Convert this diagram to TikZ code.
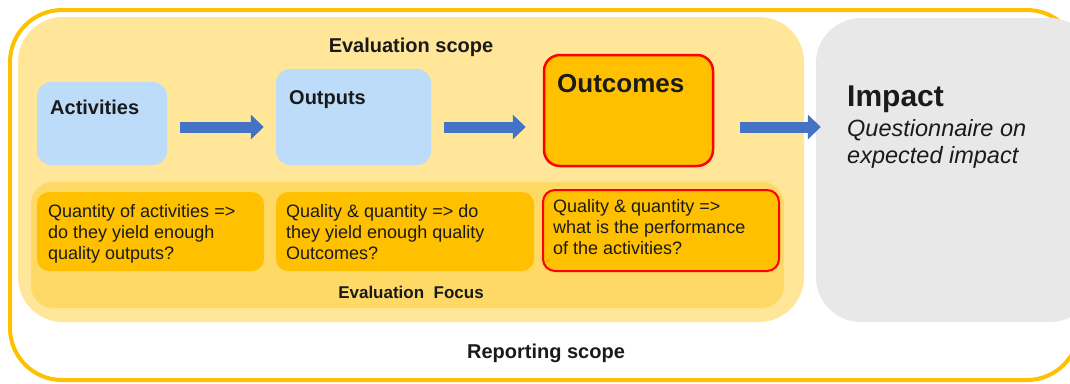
\documentclass[tikz,border=0pt]{standalone}
\usepackage{fontspec}
\setmainfont{Liberation Sans}
\usetikzlibrary{arrows.meta}

\definecolor{scopeorange}{HTML}{FFC000}
\definecolor{evalfill}{HTML}{FFE699}
\definecolor{focusfill}{HTML}{FFD966}
\definecolor{cellfill}{HTML}{FFC000}
\definecolor{bluebox}{HTML}{BDDCFA}
\definecolor{impactgray}{HTML}{E8E8E8}
\definecolor{arrowblue}{HTML}{4472C4}
\definecolor{textdark}{HTML}{1A1A1A}

\newcommand{\fsz}[2]{\fontsize{#1}{#2}\selectfont}

\tikzset{
  box/.style={rectangle, inner sep=0pt, draw=none},
  title/.style={anchor=base west, inner sep=0pt, text=textdark, font=\fsz{20}{24}\bfseries},
  celltext/.style={anchor=north west, inner sep=0pt, align=left, text=textdark, font=\fsz{18}{21}},
  blockarrow/.style={draw=arrowblue, line width=11pt,
    -{Triangle[width=24pt,length=13pt]}},
}

\begin{document}
\begin{tikzpicture}[x=1pt,y=-1pt]
  \useasboundingbox (0,0) rectangle (1070,383);
  \clip (0,0) rectangle (1070,383);

  % reporting scope frame
  \node[box, draw=scopeorange, line width=4pt, rounded corners=52pt,
        minimum width=1069pt, minimum height=370pt] (report) at (544.5,195) {};
  \node[anchor=base, inner sep=0pt, text=textdark, font=\fsz{20}{24}\bfseries]
        (reportlbl) at (546,358) {Reporting scope};

  % evaluation scope
  \node[box, fill=evalfill, rounded corners=45pt,
        minimum width=786pt, minimum height=305pt] (evalbox) at (411,169.5) {};
  \node[anchor=base, inner sep=0pt, text=textdark, font=\fsz{20}{24}\bfseries]
        (evallbl) at (411,52) {Evaluation scope};

  % impact
  \node[box, fill=impactgray, rounded corners=45pt,
        minimum width=279pt, minimum height=304pt] (impact) at (955.5,170) {};
  \node[anchor=base west, inner sep=0pt, text=textdark, font=\fsz{30}{36}\bfseries]
        (impactlbl) at (847,106) {Impact};
  \node[anchor=base west, inner sep=0pt, text=textdark, font=\fsz{23.5}{28}\itshape]
        (impactq1) at (847,136) {Questionnaire on};
  \node[anchor=base west, inner sep=0pt, text=textdark, font=\fsz{23.5}{28}\itshape]
        (impactq2) at (847,163) {expected impact};

  % result chain boxes
  \node[box, fill=bluebox, rounded corners=14pt,
        minimum width=130pt, minimum height=83pt] (act) at (102,123.5) {};
  \node[title] (actlbl) at (50,114) {Activities};

  \node[box, fill=bluebox, rounded corners=14pt,
        minimum width=155pt, minimum height=96pt] (outp) at (353.5,117) {};
  \node[title] (outplbl) at (289,104) {Outputs};

  \node[box, fill=cellfill, draw=red, line width=2.5pt, rounded corners=16pt,
        minimum width=169pt, minimum height=111pt] (outc) at (628.5,110.5) {};
  \node[title, font=\fsz{26}{30}\bfseries] (outclbl) at (557,92) {Outcomes};

  % arrows along the chain
  \coordinate (arrowrow) at (0,127);
  \draw[blockarrow] ([xshift=13pt]act.east |- arrowrow) -- ([xshift=-12pt]outp.west |- arrowrow);
  \draw[blockarrow] ([xshift=13pt]outp.east |- arrowrow) -- ([xshift=-17pt]outc.west |- arrowrow);
  \draw[blockarrow] ([xshift=26pt]outc.east |- arrowrow) -- ([xshift=5pt]impact.west |- arrowrow);

  % evaluation focus
  \node[box, fill=focusfill, rounded corners=22pt,
        minimum width=753pt, minimum height=126pt] (focus) at (407.5,245) {};
  \node[anchor=base, inner sep=0pt, text=textdark, font=\fsz{17}{21}\bfseries]
        (focuslbl) at (411,298) {Evaluation\ \ Focus};

  \node[box, fill=cellfill, rounded corners=12pt,
        minimum width=227pt, minimum height=79pt] (cellA) at (150.5,231.5) {};
  \node[celltext] (cellAtxt) at (48,204.5)
        {Quantity of activities =>\\do they yield enough\\quality outputs?};

  \node[box, fill=cellfill, rounded corners=12pt,
        minimum width=258pt, minimum height=79pt] (cellB) at (405,231.5) {};
  \node[celltext] (cellBtxt) at (286,204.5)
        {Quality \& quantity => do\\they yield enough quality\\Outcomes?};

  \node[box, fill=cellfill, draw=red, line width=2pt, rounded corners=12pt,
        minimum width=236pt, minimum height=81pt] (cellC) at (661,230.5) {};
  \node[celltext] (cellCtxt) at (553,199.5)
        {Quality \& quantity =>\\what is the performance\\of the activities?};
\end{tikzpicture}
\end{document}
